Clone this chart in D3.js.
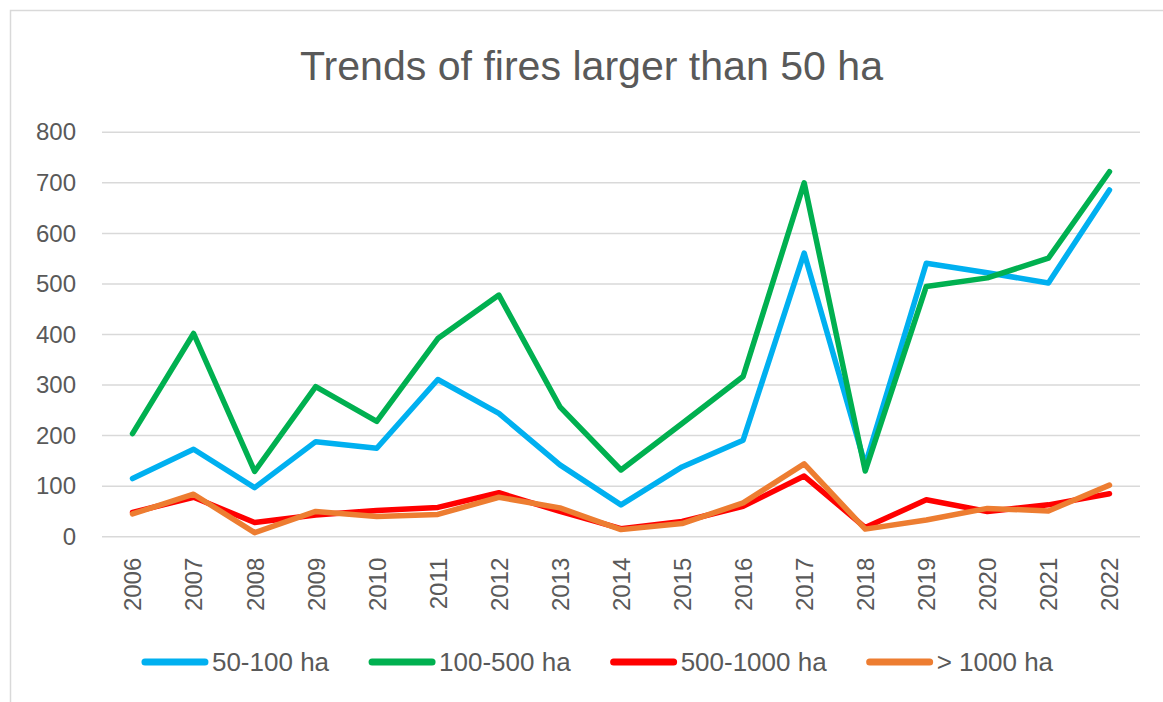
<!DOCTYPE html>
<html>
<head>
<meta charset="utf-8">
<script src="https://cdn.jsdelivr.net/npm/d3@7"></script>
<style>
  html, body { margin: 0; padding: 0; background: #fff; }
  svg text { font-family: "Liberation Sans", Arial, sans-serif; fill: #595959; }
</style>
</head>
<body>
<div id="chart"></div>
<script>
// data
var years = ["2006","2007","2008","2009","2010","2011","2012","2013","2014","2015","2016","2017","2018","2019","2020","2021","2022"];
var ha50_100   = [115,173,97,188,175,311,244,142,63,138,191,561,142,541,522,502,686];
var ha100_500  = [204,402,129,297,228,392,478,257,132,224,317,700,130,495,512,551,722];
var ha500_1000 = [48,78,28,43,52,58,87,50,16,30,60,120,18,73,50,63,85];
var ha1000plus = [45,84,8,50,40,44,78,57,14,26,67,144,15,33,56,51,102];
var seriesNames = ["50-100 ha", "100-500 ha", "500-1000 ha", "> 1000 ha"];
var yTicks = [0,100,200,300,400,500,600,700,800];

var colors = ["#00B0F0", "#00B050", "#FF0000", "#ED7D31"];
var series = [ha50_100, ha100_500, ha500_1000, ha1000plus];

var W = 1163, H = 702;
var svg = d3.select("#chart").append("svg")
    .attr("width", W)
    .attr("height", H);

// outer frame, runs off right/bottom like the screenshot
svg.append("rect")
    .attr("x", 10.5).attr("y", 10.5)
    .attr("width", 1200).attr("height", 800)
    .attr("fill", "#fff")
    .attr("stroke", "#d9d9d9")
    .attr("stroke-width", 1.5);

var x = d3.scalePoint().domain(years).range([102, 1140]).padding(0.5);
var y = d3.scaleLinear().domain([0, 800]).range([536.7, 132.3]);

// title
svg.append("text")
    .attr("x", 591.5).attr("y", 80)
    .attr("text-anchor", "middle")
    .attr("font-size", 40)
    .attr("textLength", 583)
    .attr("lengthAdjust", "spacingAndGlyphs")
    .text("Trends of fires larger than 50 ha");

// gridlines
svg.append("g")
    .selectAll("line")
    .data(yTicks)
    .enter().append("line")
    .attr("x1", 102).attr("x2", 1140)
    .attr("y1", function (d) { return y(d); })
    .attr("y2", function (d) { return y(d); })
    .attr("stroke", "#d9d9d9")
    .attr("stroke-width", 1.5);

// y axis labels
var yAxis = d3.axisLeft(y).tickValues(yTicks).tickSize(0).tickPadding(0);
var gy = svg.append("g").attr("transform", "translate(76,0)").call(yAxis);
gy.select(".domain").remove();
gy.selectAll("text")
    .attr("font-size", 24)
    .attr("font-family", null)
    .style("fill", "#595959");

// x axis labels, rotated
var xAxis = d3.axisBottom(x).tickSize(0).tickPadding(0);
var gx = svg.append("g").attr("transform", "translate(0,536.7)").call(xAxis);
gx.select(".domain").remove();
gx.selectAll("text")
    .attr("font-size", 24)
    .attr("font-family", null)
    .style("fill", "#595959")
    .attr("text-anchor", "end")
    .attr("transform", "rotate(-90)")
    .attr("x", -21)
    .attr("y", 0)
    .attr("dy", "0.35em");

// lines
var line = d3.line()
    .x(function (d, i) { return x(years[i]); })
    .y(function (d) { return y(d); });

svg.append("g")
    .selectAll("path")
    .data(series)
    .enter().append("path")
    .attr("d", line)
    .attr("fill", "none")
    .attr("stroke", function (d, i) { return colors[i]; })
    .attr("stroke-width", 5.5)
    .attr("stroke-linejoin", "round")
    .attr("stroke-linecap", "round");

// legend
var lg = svg.append("g");
var items = lg.selectAll("g")
    .data(seriesNames)
    .enter().append("g");
items.append("line")
    .attr("x1", 3).attr("x2", 63)
    .attr("y1", 0).attr("y2", 0)
    .attr("stroke", function (d, i) { return colors[i]; })
    .attr("stroke-width", 7)
    .attr("stroke-linecap", "round");
items.append("text")
    .attr("x", 70)
    .attr("dy", "0.35em")
    .attr("font-size", 26)
    .text(function (d) { return d; });

var widths = [];
items.select("text").each(function () { widths.push(this.getComputedTextLength()); });
var total = 0;
widths.forEach(function (w, i) { total += 70 + w + (i < widths.length - 1 ? 40 : 0); });
var lx = 597.5 - total / 2;
items.attr("transform", function (d, i) {
    var t = "translate(" + lx + ",662)";
    lx += 70 + widths[i] + 40;
    return t;
});
</script>
</body>
</html>
